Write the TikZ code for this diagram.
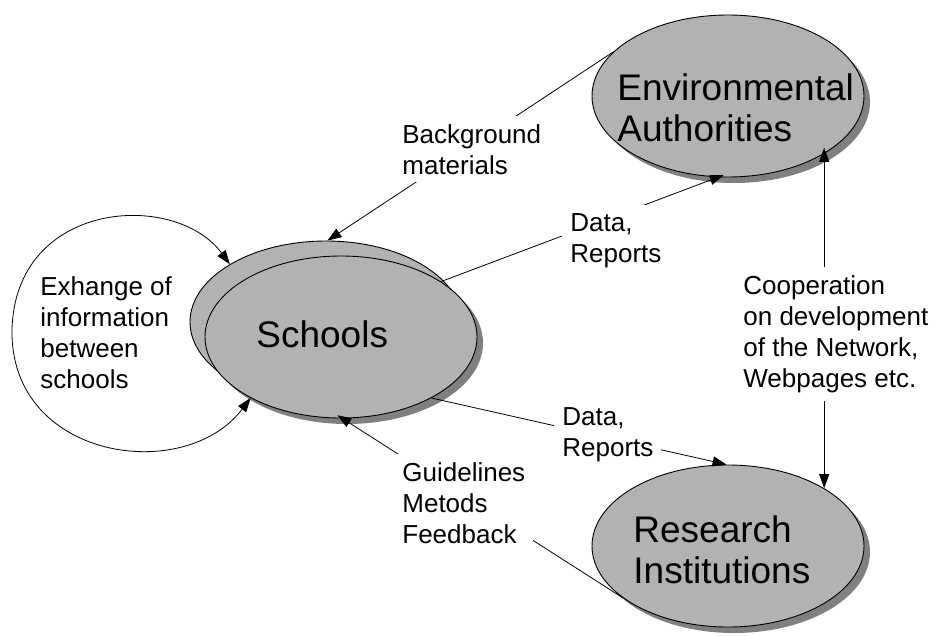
\documentclass[tikz,border=0pt]{standalone}
\usepackage{fontspec}
\setmainfont{Liberation Sans}
\usetikzlibrary{shapes.geometric}
\usetikzlibrary{shadows}
\usetikzlibrary{arrows.meta}

\definecolor{bubblegray}{gray}{0.70}
\definecolor{shadowgray}{gray}{0.50}

\tikzset{
  bubble/.style={ellipse, draw, line width=0.9pt, fill=bubblegray,
    minimum width=272pt, minimum height=162pt, inner sep=0pt},
  shadowed/.style={drop shadow={shadow xshift=6pt, shadow yshift=-6pt,
    fill=shadowgray, opacity=1}},
  bigtext/.style={anchor=north west, inner sep=0pt, align=left,
    font=\fontsize{37}{41}\selectfont},
  flowtext/.style={anchor=north west, inner sep=8pt, fill=white, align=left,
    font=\fontsize{26}{31}\selectfont},
  >={Triangle[length=14pt,width=10pt]}
}

\begin{document}
\begin{tikzpicture}[x=1pt,y=-1pt,line width=0.8pt]
	\useasboundingbox (0,0) rectangle (937,635);

	% the three parties
	\node (schoolsback) [bubble] at (326,322) {};
	\node (schools) [bubble,shadowed] at (341,337) {};
	\node (env) [bubble,shadowed] at (728,96) {};
	\node (research) [bubble,shadowed] at (728,546) {};

	\node (schoolsname) [bigtext] at (256,320) {Schools};
	\node (envname) [bigtext] at (617,73) {Environmental\\Authorities};
	\node (researchname) [bigtext] at (633,515) {Research\\Institutions};

	% flows
	\draw [->] (env.159) -- (schoolsback.89);
	\draw [->,shorten >=-6pt] (schools.29) -- (env.263);
	\draw [->] (schools.-34) -- (research.91);
	\draw [->,shorten >=-6pt] (research.206) -- (schools.-89);
	\draw [<->,shorten <=-6pt] (env.-31) -- (research.31);
	\draw [<->] (schoolsback.149) .. controls (175,190) and (15,200) .. (12,330)
		.. controls (10,460) and (185,485) .. (schools.214);

	% what flows
	\node (bgtext) [flowtext] at (394,116) {Background\\materials};
	\node (datatop) [flowtext] at (562,205) {Data,\\Reports};
	\node (coop) [flowtext] at (735,267) {Cooperation\\on development\\of the Network,\\Webpages etc.};
	\node (databottom) [flowtext] at (554,399) {Data,\\Reports};
	\node (guide) [flowtext] at (394,454) {Guidelines\\Metods\\Feedback};
	\node (exchange) [flowtext] at (32,268) {Exhange of\\information\\between\\schools};
\end{tikzpicture}
\end{document}
